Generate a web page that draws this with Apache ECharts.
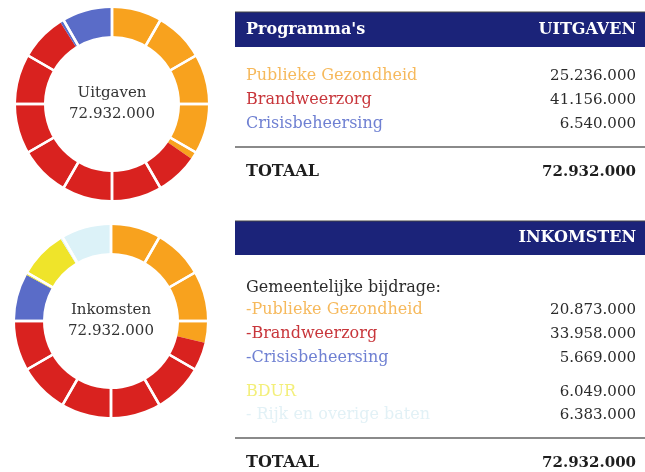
<!DOCTYPE html>
<html>
<head>
<meta charset="utf-8">
<script src="https://cdn.jsdelivr.net/npm/echarts@6/dist/echarts.min.js"></script>
<style>
  html, body { margin: 0; padding: 0; background: #fff; }
  #chart { width: 645px; height: 472px; }
</style>
</head>
<body>
<div id="chart"></div>
<script>
// uitgaven per programma
const uitgavenLabels = ['Publieke Gezondheid', 'Brandweerzorg', 'Crisisbeheersing']
const uitgavenValues = [25236000, 41156000, 6540000]
const uitgavenColors = ['#f8a21e', '#d9221f', '#5a6cc8']
const uitgavenTextColors = ['#f6b95c', '#c8363b', '#6f80d2']

// inkomsten
const inkomstenLabels = ['-Publieke Gezondheid', '-Brandweerzorg', '-Crisisbeheersing', 'BDUR', '- Rijk en overige baten']
const inkomstenValues = [20873000, 33958000, 5669000, 6049000, 6383000]
const inkomstenColors = ['#f8a21e', '#d9221f', '#5a6cc8', '#efe42a', '#dcf2f8']
const inkomstenTextColors = ['#f6b95c', '#c8363b', '#6f80d2', '#f3ef7a', '#e2f1f6']

const totaal = 72932000
const segments = 12

const fmt = v => v.toString().replace(/\B(?=(\d{3})+(?!\d))/g, '.')
const serif = '"DejaVu Serif", serif'

const chart = echarts.init(document.getElementById('chart'), null, { renderer: 'canvas' })

const donut = (center, labels, values, colors) => ({
  type: 'pie',
  center: center,
  radius: [68, 96],
  startAngle: 90,
  silent: true,
  label: { show: false },
  labelLine: { show: false },
  itemStyle: { borderWidth: 0 },
  data: values.map((v, i) => ({ name: labels[i], value: v, itemStyle: { color: colors[i] } }))
})

// witte scheidingslijnen, 12 gelijke stukken
const gaps = center => ({
  type: 'pie',
  center: center,
  radius: [64, 100],
  startAngle: 90,
  silent: true,
  z: 5,
  label: { show: false },
  labelLine: { show: false },
  itemStyle: { color: 'rgba(0,0,0,0)', borderColor: '#fff', borderWidth: 2.5 },
  data: Array.from({ length: segments }, () => 1)
})

const graphics = []
const txt = (x, y, text, opts) => graphics.push({
  type: 'text', x: x, y: y,
  style: Object.assign({ text: text, font: '15px ' + serif, fill: '#2b2b2b', textVerticalAlign: 'middle' }, opts)
})

// middenteksten
txt(112, 93, 'Uitgaven', { textAlign: 'center', font: '15px ' + serif, fill: '#333' })
txt(112, 114, fmt(totaal), { textAlign: 'center', font: '15px ' + serif, fill: '#333' })
txt(111, 310, 'Inkomsten', { textAlign: 'center', font: '15px ' + serif, fill: '#333' })
txt(111, 331, fmt(totaal), { textAlign: 'center', font: '15px ' + serif, fill: '#333' })

// tabel uitgaven
graphics.push({ type: 'rect', shape: { x: 235, y: 12, width: 410, height: 35 }, style: { fill: '#1b2379' } })
graphics.push({ type: 'line', shape: { x1: 235, y1: 12, x2: 645, y2: 12 }, style: { stroke: '#444', lineWidth: 1 } })
txt(246, 30, "Programma's", { font: 'bold 16px ' + serif, fill: '#fff' })
txt(636, 30, 'UITGAVEN', { font: 'bold 16px ' + serif, fill: '#fff', textAlign: 'right' })
const rowY1 = [76, 100, 124]
uitgavenLabels.forEach((l, i) => {
  txt(246, rowY1[i], l, { font: '16px ' + serif, fill: uitgavenTextColors[i] })
  txt(636, rowY1[i], fmt(uitgavenValues[i]), { textAlign: 'right' })
})
graphics.push({ type: 'line', shape: { x1: 235, y1: 147, x2: 645, y2: 147 }, style: { stroke: '#8a8a8a', lineWidth: 2 } })
txt(246, 172, 'TOTAAL', { font: 'bold 16px ' + serif, fill: '#1e1e1e' })
txt(636, 172, fmt(totaal), { font: 'bold 15px ' + serif, fill: '#1e1e1e', textAlign: 'right' })

// tabel inkomsten
graphics.push({ type: 'rect', shape: { x: 235, y: 221, width: 410, height: 34 }, style: { fill: '#1b2379' } })
graphics.push({ type: 'line', shape: { x1: 235, y1: 221, x2: 645, y2: 221 }, style: { stroke: '#444', lineWidth: 1 } })
txt(636, 238, 'INKOMSTEN', { font: 'bold 16px ' + serif, fill: '#fff', textAlign: 'right' })
txt(246, 288, 'Gemeentelijke bijdrage:', { font: '16px ' + serif })
const rowY2 = [310, 334, 358, 392, 415]
inkomstenLabels.forEach((l, i) => {
  txt(246, rowY2[i], l, { font: '16px ' + serif, fill: inkomstenTextColors[i] })
  txt(636, rowY2[i], fmt(inkomstenValues[i]), { textAlign: 'right' })
})
graphics.push({ type: 'line', shape: { x1: 235, y1: 438, x2: 645, y2: 438 }, style: { stroke: '#8a8a8a', lineWidth: 2 } })
txt(246, 463, 'TOTAAL', { font: 'bold 16px ' + serif, fill: '#1e1e1e' })
txt(636, 463, fmt(totaal), { font: 'bold 15px ' + serif, fill: '#1e1e1e', textAlign: 'right' })

chart.setOption({
  animation: false,
  backgroundColor: '#fff',
  series: [
    donut([112, 104], uitgavenLabels, uitgavenValues, uitgavenColors),
    gaps([112, 104]),
    donut([111, 321], inkomstenLabels, inkomstenValues, inkomstenColors),
    gaps([111, 321])
  ],
  graphic: graphics
})
</script>
</body>
</html>
